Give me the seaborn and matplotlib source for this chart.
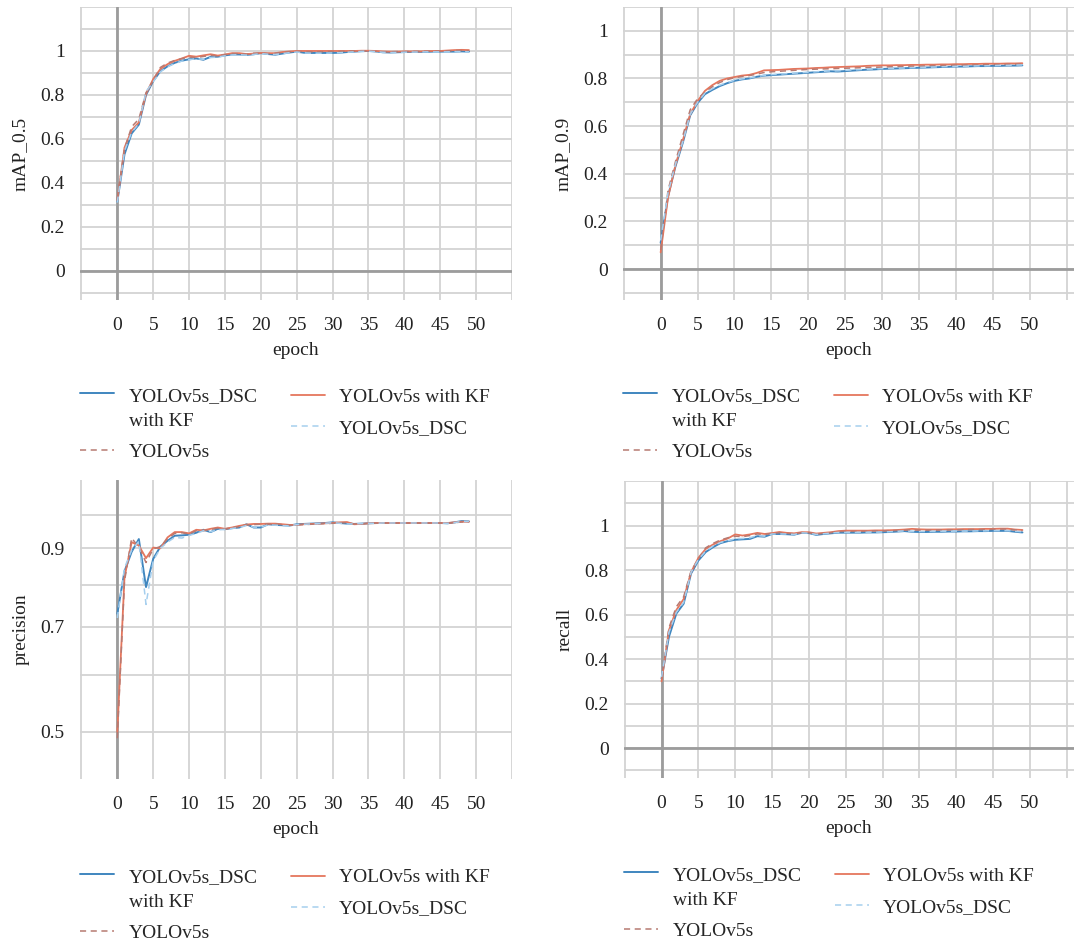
import numpy as np
import pandas as pd
import matplotlib
matplotlib.use("Agg")
import matplotlib.pyplot as plt
import matplotlib.ticker as mticker
from matplotlib.lines import Line2D
from matplotlib.legend_handler import HandlerLine2D
import seaborn as sns

# --- data ---
epochs = list(range(50))
series_names = ["YOLOv5s_DSC\nwith KF", "YOLOv5s", "YOLOv5s with KF", "YOLOv5s_DSC"]

map05_dsc_kf = [0.315, 0.53, 0.625, 0.665, 0.80, 0.863, 0.908, 0.93, 0.946, 0.956, 0.962, 0.966, 0.96, 0.973, 0.974, 0.98, 0.984, 0.984, 0.982, 0.985, 0.99, 0.986, 0.983, 0.988, 0.993, 0.997, 0.992, 0.991, 0.991, 0.991, 0.991, 0.992, 0.995, 0.997, 0.999, 1.0, 0.998, 0.994, 0.993, 0.994, 0.995, 0.996, 0.996, 0.996, 0.997, 0.997, 0.997, 0.997, 0.998, 0.997]
map05_v5_kf = [0.32, 0.56, 0.64, 0.675, 0.805, 0.872, 0.918, 0.94, 0.955, 0.966, 0.978, 0.974, 0.98, 0.985, 0.979, 0.984, 0.99, 0.99, 0.986, 0.988, 0.991, 0.99, 0.99, 0.995, 0.998, 1.0, 1.0, 1.0, 1.0, 1.0, 1.0, 1.0, 1.0, 1.0, 1.001, 1.001, 1.0, 0.998, 0.997, 0.997, 0.998, 0.998, 0.998, 0.999, 1.0, 1.0, 1.002, 1.004, 1.005, 1.004]
map05_v5 = [0.33, 0.555, 0.655, 0.69, 0.81, 0.865, 0.925, 0.945, 0.957, 0.965, 0.972, 0.97, 0.975, 0.98, 0.977, 0.983, 0.988, 0.988, 0.985, 0.99, 0.99, 0.988, 0.99, 0.993, 0.996, 0.998, 0.997, 0.996, 0.996, 0.997, 0.998, 0.998, 0.999, 1.0, 1.0, 1.0, 0.998, 0.996, 0.996, 0.997, 0.997, 0.998, 0.998, 0.999, 0.999, 1.0, 1.0, 1.002, 1.002, 1.001]
map05_dsc = [0.31, 0.545, 0.63, 0.67, 0.815, 0.86, 0.905, 0.928, 0.943, 0.954, 0.96, 0.965, 0.962, 0.97, 0.972, 0.978, 0.982, 0.983, 0.981, 0.984, 0.988, 0.985, 0.984, 0.988, 0.992, 0.995, 0.991, 0.99, 0.99, 0.99, 0.991, 0.992, 0.994, 0.996, 0.998, 0.999, 0.997, 0.994, 0.993, 0.993, 0.994, 0.995, 0.995, 0.996, 0.996, 0.996, 0.996, 0.997, 0.997, 0.996]

map09_dsc_kf = [0.11, 0.305, 0.43, 0.53, 0.645, 0.697, 0.734, 0.752, 0.768, 0.78, 0.79, 0.796, 0.80, 0.807, 0.812, 0.814, 0.816, 0.818, 0.82, 0.822, 0.824, 0.826, 0.828, 0.83, 0.829, 0.831, 0.833, 0.835, 0.837, 0.838, 0.84, 0.841, 0.842, 0.843, 0.844, 0.845, 0.846, 0.847, 0.848, 0.849, 0.85, 0.85, 0.851, 0.852, 0.852, 0.853, 0.853, 0.854, 0.854, 0.855]
map09_v5_kf = [0.07, 0.30, 0.435, 0.54, 0.65, 0.705, 0.748, 0.772, 0.79, 0.80, 0.806, 0.812, 0.815, 0.823, 0.834, 0.835, 0.836, 0.838, 0.84, 0.841, 0.842, 0.844, 0.845, 0.847, 0.848, 0.849, 0.85, 0.851, 0.853, 0.854, 0.855, 0.855, 0.856, 0.856, 0.857, 0.857, 0.858, 0.858, 0.859, 0.859, 0.86, 0.86, 0.861, 0.861, 0.862, 0.862, 0.862, 0.863, 0.863, 0.864]
map09_v5 = [0.08, 0.33, 0.45, 0.56, 0.668, 0.715, 0.742, 0.765, 0.783, 0.795, 0.803, 0.808, 0.812, 0.818, 0.825, 0.828, 0.83, 0.832, 0.834, 0.836, 0.838, 0.839, 0.84, 0.841, 0.842, 0.843, 0.844, 0.845, 0.846, 0.847, 0.848, 0.849, 0.85, 0.851, 0.852, 0.852, 0.853, 0.854, 0.854, 0.855, 0.856, 0.856, 0.857, 0.857, 0.858, 0.858, 0.859, 0.859, 0.86, 0.86]
map09_dsc = [0.12, 0.32, 0.44, 0.535, 0.65, 0.70, 0.738, 0.757, 0.772, 0.783, 0.792, 0.798, 0.802, 0.808, 0.813, 0.816, 0.818, 0.82, 0.822, 0.824, 0.826, 0.828, 0.83, 0.832, 0.832, 0.834, 0.836, 0.837, 0.839, 0.84, 0.841, 0.842, 0.843, 0.844, 0.845, 0.846, 0.847, 0.848, 0.849, 0.85, 0.851, 0.851, 0.852, 0.853, 0.853, 0.854, 0.855, 0.855, 0.856, 0.857]

prec_dsc_kf = [0.73, 0.836, 0.89, 0.927, 0.795, 0.87, 0.905, 0.922, 0.937, 0.938, 0.94, 0.946, 0.955, 0.948, 0.958, 0.957, 0.96, 0.962, 0.972, 0.962, 0.962, 0.972, 0.97, 0.969, 0.968, 0.972, 0.973, 0.974, 0.975, 0.976, 0.978, 0.976, 0.974, 0.973, 0.974, 0.975, 0.976, 0.976, 0.976, 0.976, 0.976, 0.976, 0.976, 0.976, 0.976, 0.976, 0.975, 0.978, 0.982, 0.981]
prec_v5_kf = [0.5, 0.82, 0.918, 0.908, 0.872, 0.902, 0.9, 0.932, 0.948, 0.948, 0.944, 0.955, 0.953, 0.958, 0.962, 0.958, 0.962, 0.967, 0.971, 0.973, 0.973, 0.974, 0.974, 0.972, 0.97, 0.97, 0.972, 0.973, 0.974, 0.975, 0.976, 0.978, 0.979, 0.972, 0.973, 0.975, 0.976, 0.976, 0.976, 0.976, 0.976, 0.976, 0.976, 0.976, 0.976, 0.976, 0.976, 0.978, 0.98, 0.98]
prec_v5 = [0.49, 0.81, 0.93, 0.903, 0.86, 0.898, 0.905, 0.928, 0.944, 0.946, 0.942, 0.952, 0.952, 0.956, 0.96, 0.957, 0.961, 0.965, 0.97, 0.971, 0.972, 0.973, 0.973, 0.971, 0.969, 0.97, 0.971, 0.972, 0.973, 0.974, 0.975, 0.977, 0.977, 0.973, 0.973, 0.975, 0.975, 0.976, 0.976, 0.976, 0.976, 0.976, 0.976, 0.976, 0.976, 0.976, 0.976, 0.977, 0.979, 0.98]
prec_dsc = [0.72, 0.845, 0.895, 0.92, 0.752, 0.865, 0.9, 0.918, 0.932, 0.93, 0.938, 0.944, 0.952, 0.949, 0.955, 0.956, 0.959, 0.962, 0.968, 0.963, 0.963, 0.97, 0.969, 0.968, 0.967, 0.971, 0.972, 0.973, 0.974, 0.975, 0.977, 0.975, 0.973, 0.973, 0.974, 0.975, 0.975, 0.976, 0.976, 0.976, 0.976, 0.976, 0.976, 0.976, 0.976, 0.976, 0.975, 0.977, 0.981, 0.981]

recall_dsc_kf = [0.313, 0.50, 0.604, 0.649, 0.784, 0.843, 0.881, 0.903, 0.921, 0.93, 0.936, 0.938, 0.94, 0.952, 0.95, 0.962, 0.962, 0.961, 0.959, 0.967, 0.966, 0.958, 0.962, 0.965, 0.968, 0.968, 0.968, 0.968, 0.969, 0.969, 0.97, 0.971, 0.973, 0.975, 0.972, 0.971, 0.971, 0.972, 0.972, 0.973, 0.973, 0.974, 0.974, 0.975, 0.975, 0.976, 0.976, 0.976, 0.972, 0.969]
recall_v5_kf = [0.30, 0.53, 0.62, 0.67, 0.79, 0.855, 0.895, 0.915, 0.93, 0.942, 0.96, 0.955, 0.96, 0.967, 0.962, 0.966, 0.971, 0.967, 0.965, 0.97, 0.97, 0.964, 0.967, 0.97, 0.975, 0.977, 0.977, 0.977, 0.977, 0.978, 0.978, 0.979, 0.98, 0.982, 0.985, 0.983, 0.982, 0.982, 0.982, 0.983, 0.983, 0.984, 0.984, 0.984, 0.985, 0.985, 0.986, 0.986, 0.982, 0.98]
recall_v5 = [0.31, 0.54, 0.635, 0.68, 0.795, 0.85, 0.9, 0.92, 0.935, 0.945, 0.952, 0.95, 0.955, 0.962, 0.96, 0.965, 0.968, 0.965, 0.963, 0.968, 0.968, 0.962, 0.965, 0.968, 0.973, 0.974, 0.974, 0.974, 0.975, 0.976, 0.976, 0.977, 0.978, 0.979, 0.98, 0.979, 0.979, 0.979, 0.98, 0.98, 0.981, 0.981, 0.982, 0.982, 0.982, 0.983, 0.984, 0.984, 0.98, 0.977]
recall_dsc = [0.32, 0.52, 0.61, 0.655, 0.79, 0.848, 0.885, 0.908, 0.924, 0.932, 0.94, 0.942, 0.945, 0.955, 0.952, 0.962, 0.962, 0.962, 0.96, 0.967, 0.966, 0.96, 0.963, 0.966, 0.969, 0.969, 0.969, 0.969, 0.97, 0.97, 0.971, 0.972, 0.974, 0.976, 0.973, 0.973, 0.973, 0.974, 0.974, 0.974, 0.975, 0.975, 0.975, 0.976, 0.976, 0.977, 0.977, 0.977, 0.974, 0.972]

# --- style ---
sns.set_style("white")
plt.rcParams["font.family"] = ["Liberation Serif", "DejaVu Serif"]
plt.rcParams["font.size"] = 14

colors = {"dsc_kf": "#3f86bf", "v5": "#b77a72", "v5_kf": "#e5765d", "dsc": "#a6cfee"}
styles = {"dsc_kf": "-", "v5": (0, (4, 3)), "v5_kf": "-", "dsc": (0, (4, 3))}
widths = {"dsc_kf": 1.4, "v5": 1.1, "v5_kf": 1.3, "dsc": 1.1}
grid_col = "#d3d3d3"
axis_col = "#9c9c9c"


class FirstLineHandler(HandlerLine2D):
    # put the legend line next to the first line of a two-line label
    def create_artists(self, *args, **kwargs):
        artists = super().create_artists(*args, **kwargs)
        for a in artists:
            a.set_ydata(np.asarray(a.get_ydata()) + 11)
        return artists


fig = plt.figure(figsize=(10.74, 9.47), dpi=100)
W, H = 1074, 947


def px_axes(left, top, right, bottom):
    return fig.add_axes([left / W, 1 - bottom / H, (right - left) / W, (bottom - top) / H])


panels = [
    dict(box=(80, 7, 512, 300), ylabel="mAP_0.5", ylim=(-0.133, 1.2), xlim=(-5.2, 55),
         data=dict(dsc_kf=map05_dsc_kf, v5_kf=map05_v5_kf, v5=map05_v5, dsc=map05_dsc),
         yticks=[0, 0.2, 0.4, 0.6, 0.8, 1.0], yminor=np.arange(-0.1, 1.25, 0.1)),
    dict(box=(623, 7, 1074, 300), ylabel="mAP_0.9", ylim=(-0.13, 1.1), xlim=(-5.1, 56),
         data=dict(dsc_kf=map09_dsc_kf, v5_kf=map09_v5_kf, v5=map09_v5, dsc=map09_dsc),
         yticks=[0, 0.2, 0.4, 0.6, 0.8, 1.0], yminor=np.arange(-0.1, 1.15, 0.1)),
    dict(box=(80, 480, 512, 779), ylabel="precision", ylim=(0.43, 1.12), xlim=(-5.2, 55),
         data=dict(dsc_kf=prec_dsc_kf, v5_kf=prec_v5_kf, v5=prec_v5, dsc=prec_dsc),
         yticks=[0.5, 0.7, 0.9], yminor=[0.6, 0.8, 1.0], log=True),
    dict(box=(624, 481, 1074, 778), ylabel="recall", ylim=(-0.134, 1.2), xlim=(-5.1, 56),
         data=dict(dsc_kf=recall_dsc_kf, v5_kf=recall_v5_kf, v5=recall_v5, dsc=recall_dsc),
         yticks=[0, 0.2, 0.4, 0.6, 0.8, 1.0], yminor=np.arange(-0.1, 1.25, 0.1)),
]

for p in panels:
    ax = px_axes(*p["box"])
    if p.get("log"):
        ax.set_yscale("log")

    for key in ["dsc_kf", "v5_kf", "v5", "dsc"]:
        sns.lineplot(x=epochs, y=p["data"][key], ax=ax, color=colors[key],
                     linestyle=styles[key], linewidth=widths[key], zorder=3)

    ax.set_xlim(*p["xlim"])
    ax.set_ylim(*p["ylim"])
    ax.set_xticks(range(0, 55, 5))
    ax.set_xticks([-5, 55], minor=True)
    ax.set_yticks(p["yticks"])
    ax.yaxis.set_major_formatter(mticker.FuncFormatter(lambda v, pos: f"{round(v, 2):g}"))
    ax.set_yticks(p["yminor"], minor=True)
    ax.yaxis.set_minor_formatter(mticker.NullFormatter())
    ax.grid(True, which="both", color=grid_col, linewidth=1.3, zorder=0)
    ax.set_axisbelow(True)
    for s in ax.spines.values():
        s.set_visible(False)
    ax.tick_params(which="both", length=0, labelsize=14, colors="#222222")
    ax.tick_params(axis="y", pad=11)
    ax.tick_params(axis="x", pad=12)

    ax.axvline(0, color=axis_col, linewidth=2, zorder=2)
    if not p.get("log"):
        ax.axhline(0, color=axis_col, linewidth=2, zorder=2)

    ax.set_xlabel("epoch", fontsize=14, labelpad=6, color="#222222")
    ax.set_ylabel(p["ylabel"], fontsize=14, labelpad=8, color="#222222")

    handles = [Line2D([], [], color=colors[k], linestyle=styles[k], linewidth=widths[k])
               for k in ["dsc_kf", "v5", "v5_kf", "dsc"]]
    leg = ax.legend(handles, series_names, loc="upper left", bbox_to_anchor=(0, -0.30),
                    ncol=2, frameon=False, fontsize=14, borderaxespad=0, borderpad=0,
                    handlelength=1.75, handletextpad=0.75, columnspacing=1.7,
                    labelspacing=0.7, handler_map={handles[0]: FirstLineHandler()})
    leg.get_texts()[0].set_linespacing(1.6)
    leg._legend_handle_box.align = "top"

fig.savefig("out.png", dpi=100, facecolor="white")
